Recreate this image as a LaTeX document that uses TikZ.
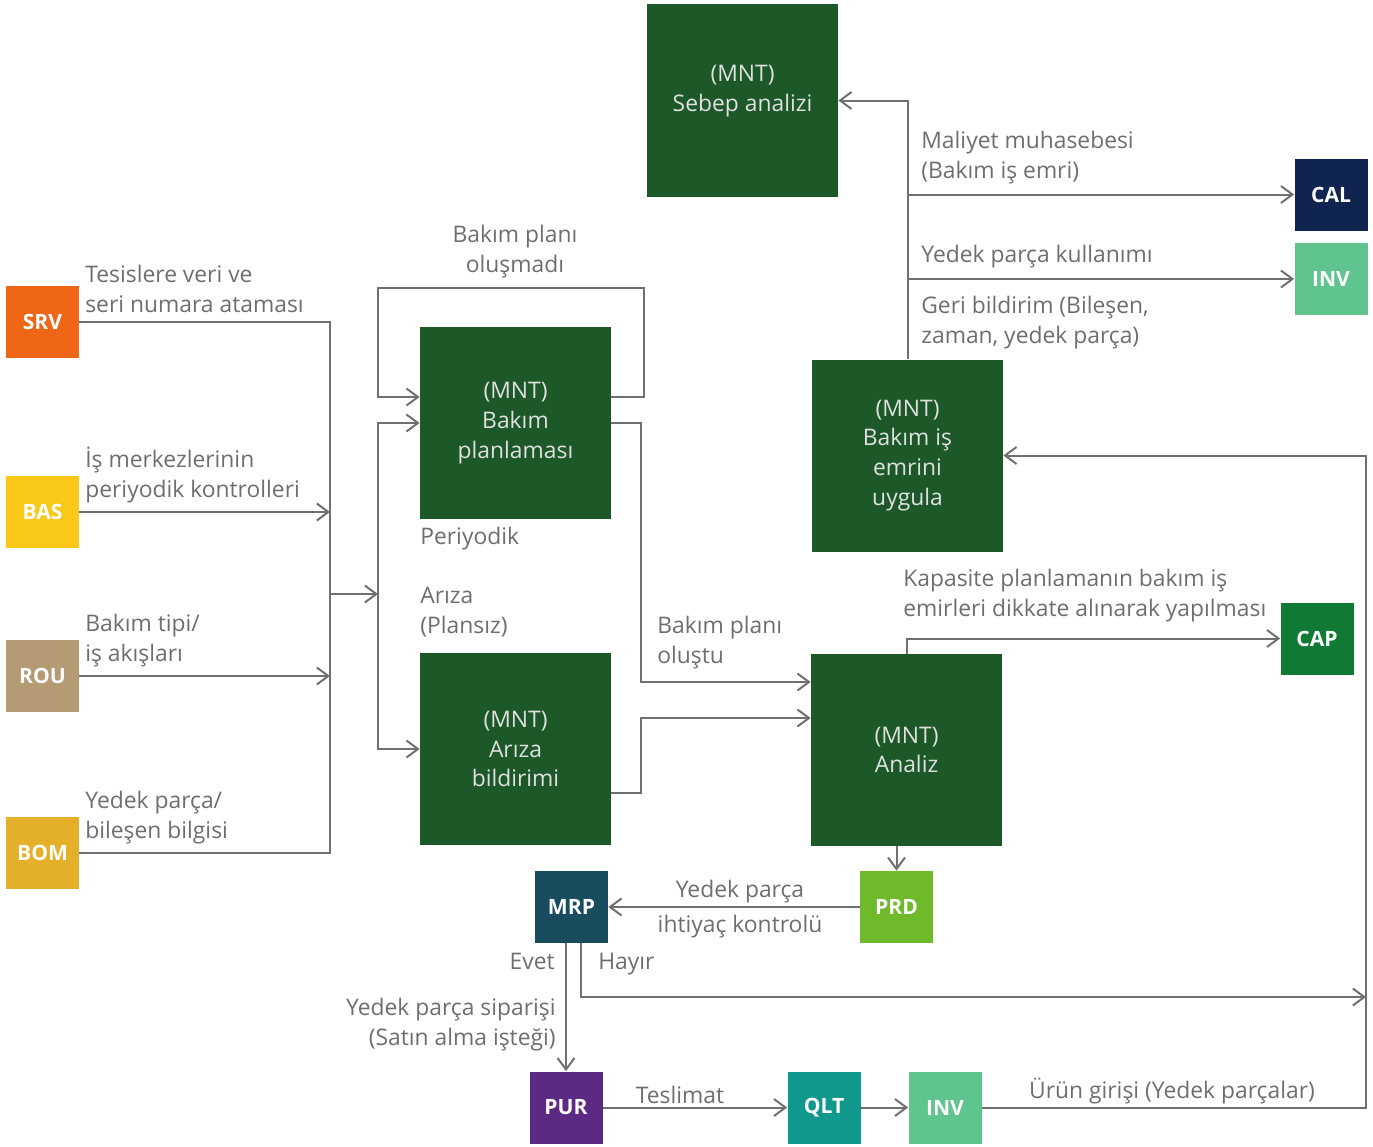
\documentclass[tikz,border=0pt]{standalone}
\usepackage{fontspec}
\setmainfont{Open Sans}
\usetikzlibrary{arrows.meta,positioning}
\definecolor{mntgreen}{RGB}{28,88,40}
\definecolor{srvorange}{RGB}{238,102,22}
\definecolor{basyellow}{RGB}{250,200,25}
\definecolor{routan}{RGB}{180,155,115}
\definecolor{bomgold}{RGB}{228,176,42}
\definecolor{calnavy}{RGB}{16,36,80}
\definecolor{invgreen}{RGB}{96,196,142}
\definecolor{capgreen}{RGB}{16,122,52}
\definecolor{prdlime}{RGB}{110,186,42}
\definecolor{mrpteal}{RGB}{26,76,96}
\definecolor{purpurple}{RGB}{92,42,132}
\definecolor{qltteal}{RGB}{16,152,140}
\definecolor{linegray}{RGB}{112,112,112}
\definecolor{textgray}{RGB}{110,110,110}

\tikzset{
  module/.style={draw=none,minimum width=14.6mm,minimum height=14.4mm,
    inner sep=0pt,text=white,font=\fontsize{12}{15}\selectfont\bfseries},
  mnt/.style={fill=mntgreen,minimum width=38.2mm,minimum height=38.4mm,
    inner sep=0pt,align=center,text={black!12},font=\fontsize{13}{17}\selectfont},
  lbl/.style={inner sep=0pt,align=left,text=textgray,font=\fontsize{13}{17}\selectfont},
  line/.style={draw=linegray,line width=0.4mm},
  arr/.style={line,-{Straight Barb[length=2.3mm,width=3.4mm,line width=0.4mm]}}
}

\begin{document}
\begin{tikzpicture}[x=0.2mm,y=-0.2mm]
\useasboundingbox (0,0) rectangle (1373,1146);

% master data on the left
\node[module,fill=srvorange] (srv) at (42.5,322) {SRV};
\node[module,fill=basyellow] (bas) at (42.5,512) {BAS};
\node[module,fill=routan] (rou) at (42.5,676) {ROU};
\node[module,fill=bomgold] (bom) at (42.5,853) {BOM};

% maintenance steps
\node[mnt] (plan) at (515.5,423) {(MNT)\\Bakım\\planlaması};
\node[mnt] (ariza) at (515.5,749) {(MNT)\\Arıza\\bildirimi};
\node[mnt] (sebep) at (742.5,100.5) {(MNT)\\Sebep analizi\\[-3pt]\mbox{}};
\node[mnt] (uygula) at (907.5,455.5) {(MNT)\\Bakım iş\\emrini\\uygula};
\node[mnt] (analiz) at (906.5,750) {(MNT)\\Analiz};

% other modules
\node[module,fill=calnavy] (cal) at (1331,194.5) {CAL};
\node[module,fill=invgreen] (invu) at (1331,279) {INV};
\node[module,fill=capgreen] (cap) at (1317,638.5) {CAP};
\node[module,fill=prdlime] (prd) at (896.5,907) {PRD};
\node[module,fill=mrpteal] (mrp) at (571.5,907) {MRP};
\node[module,fill=purpurple] (pur) at (566,1107.5) {PUR};
\node[module,fill=qltteal] (qlt) at (824,1107.5) {QLT};
\node[module,fill=invgreen] (inva) at (945,1107.5) {INV};

% bend points
\coordinate (busl) at (330,0);
\coordinate (jn) at (330,594);
\coordinate (busr) at (378,594);
\coordinate (lpin) at (0,397);
\coordinate (lp) at (644,288);
\coordinate (lq) at (378,288);
\coordinate (v1) at (641,0);
\coordinate (a1) at (0,682);
\coordinate (a2) at (0,718);
\coordinate (a3) at (0,793);
\coordinate (hy) at (581,997);
\coordinate (rbus) at (1366,0);

% left inputs
\draw[line] (srv.east) -| (busl |- bom.east) -- (bom.east);
\draw[arr] (bas.east) -- (bas.east -| busl);
\draw[arr] (rou.east) -- (rou.east -| busl);
\draw[arr] (jn) -- (busr);
\draw[arr] (busr) |- (plan.west);
\draw[arr] (busr) |- (ariza.west);
\draw[arr] (plan.east |- lpin) -| (lp) -- (lq) |- (plan.west |- lpin);

% to analysis
\draw[arr] (plan.east) -| (v1 |- a1) -- (analiz.west |- a1);
\draw[arr] (ariza.east |- a3) -| (v1 |- a2) -- (analiz.west |- a2);
\draw[arr] (analiz.north) |- (cap.west);
\draw[arr] (prd.north |- analiz.south) -- (prd.north);
\draw[arr] (prd.west) -- (mrp.east);
\draw[arr] (pur.north |- mrp.south) -- (pur.north);
\draw[arr] (mrp.south -| hy) -- (hy) -- (rbus |- hy);
\draw[arr] (pur.east) -- (qlt.west);
\draw[arr] (qlt.east) -- (inva.west);
\draw[arr] (inva.east) -| (rbus |- uygula.east) -- (uygula.east);

% feedback
\draw[arr] (uygula.north) |- (sebep.east);
\draw[arr] (uygula.north |- cal.west) -- (cal.west);
\draw[arr] (uygula.north |- invu.west) -- (invu.west);

% labels
\node[lbl,anchor=south west] (l1) at (85,313) {Tesislere veri ve\\seri numara ataması};
\node[lbl,anchor=south west] (l2) at (85,503) {İş merkezlerinin\\periyodik kontrolleri};
\node[lbl,anchor=south west] (l3) at (85,667) {Bakım tipi/\\iş akışları};
\node[lbl,anchor=south west] (l4) at (85,844) {Yedek parça/\\bileşen bilgisi};
\node[lbl,anchor=south,align=center] (l5) at (515,278) {Bakım planı\\oluşmadı};
\node[lbl,anchor=north west] (l6) at (420,527) {Periyodik};
\node[lbl,anchor=north west] (l7) at (420,587) {Arıza\\(Plansız)};
\node[lbl,anchor=north west] (l8) at (657,616) {Bakım planı\\oluştu};
\node[lbl,anchor=south west] (l9) at (921,184) {Maliyet muhasebesi\\(Bakım iş emri)};
\node[lbl,anchor=south west] (l10) at (921,268) {Yedek parça kullanımı};
\node[lbl,anchor=north west] (l11) at (921,296) {Geri bildirim (Bileşen,\\zaman, yedek parça)};
\node[lbl,anchor=south west] (l12) at (903,622) {Kapasite planlamanın bakım iş\\emirleri dikkate alınarak yapılması};
\node[lbl,align=center] (l13) at (740,909) {Yedek parça\\[1.2mm]ihtiyaç kontrolü};
\node[lbl,anchor=north east] (l14) at (555,953) {Evet};
\node[lbl,anchor=north west] (l15) at (598,953) {Hayır};
\node[lbl,anchor=north east,align=right] (l16) at (556,998) {Yedek parça siparişi\\(Satın alma işteği)};
\node[lbl,anchor=south] (l17) at (680,1104) {Teslimat};
\node[lbl,anchor=south] (l18) at (1172,1104) {Ürün girişi (Yedek parçalar)};
\end{tikzpicture}
\end{document}
